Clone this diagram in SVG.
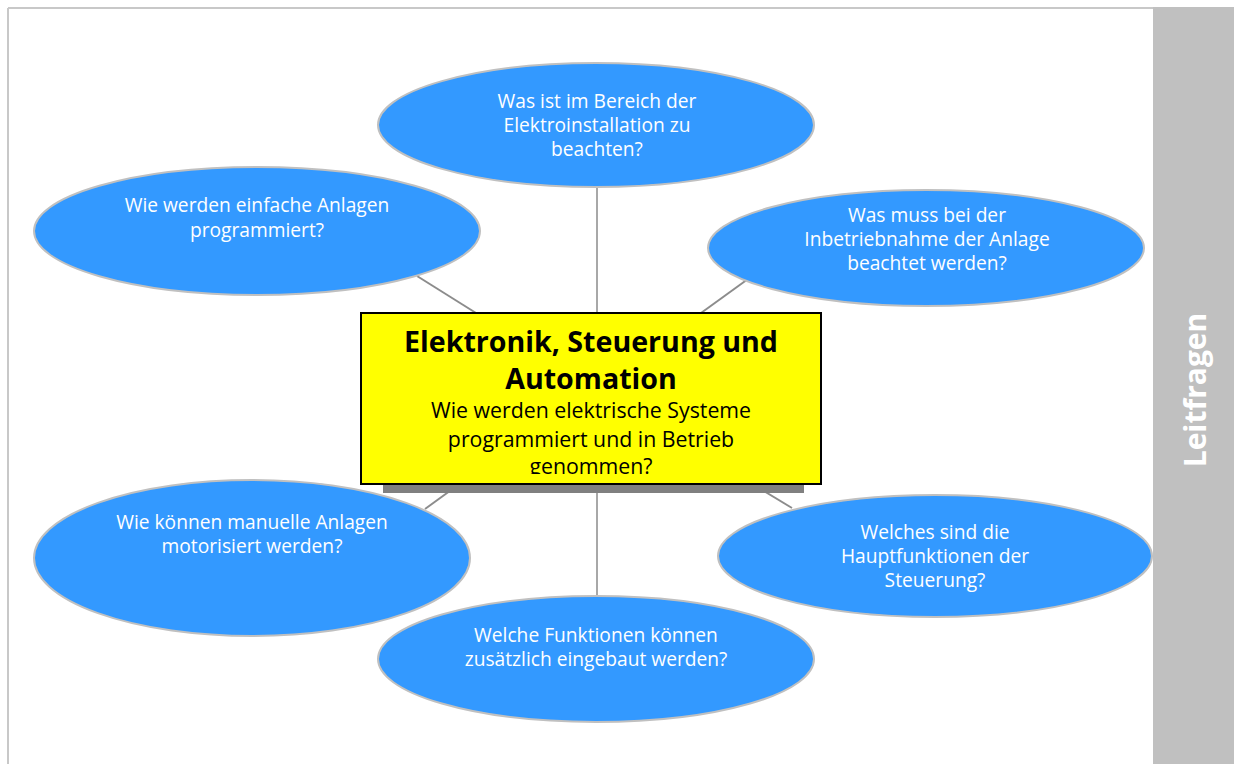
<svg xmlns="http://www.w3.org/2000/svg" width="1236" height="764" viewBox="0 0 1236 764">
<defs>
<style>
.node ellipse{fill:#3399ff;stroke:#c0c0c0;stroke-width:2}
.node text{font-family:"Open Sans","Liberation Sans",sans-serif;font-size:19.2px;fill:#ffffff;text-anchor:middle}
.conn line{stroke:#8c8c8c;stroke-width:2}
.title{font-family:"Open Sans","Liberation Sans",sans-serif;font-weight:bold;font-size:28.6px;fill:#000;text-anchor:middle}
.sub{font-family:"Open Sans","Liberation Sans",sans-serif;font-size:21.3px;fill:#000;text-anchor:middle}
</style>
<clipPath id="boxclip"><rect x="362" y="314" width="458" height="160"/></clipPath>
</defs>
<rect x="0" y="0" width="1236" height="764" fill="#ffffff"/>
<g id="frame">
<line x1="8" y1="8" x2="1153" y2="8" stroke="#c8c8c8" stroke-width="2"/>
<line x1="8" y1="8" x2="8" y2="764" stroke="#c8c8c8" stroke-width="2"/>
<rect x="1153" y="7" width="81" height="757" fill="#c0c0c0"/>
</g>
<g class="conn" id="connectors">
<line x1="597" y1="188" x2="597" y2="313" style="stroke:#a8a8a8"/>
<line x1="417" y1="276" x2="476" y2="313"/>
<line x1="748" y1="279" x2="701" y2="313"/>
<line x1="458" y1="485" x2="425" y2="509"/>
<line x1="754" y1="485" x2="792" y2="508"/>
<line x1="597" y1="485" x2="597" y2="597" style="stroke:#a8a8a8"/>
</g>
<g class="node" id="n-top">
<ellipse cx="596" cy="125" rx="218" ry="62"/>
<text x="597" y="108">Was ist im Bereich der</text>
<text x="597" y="132">Elektroinstallation zu</text>
<text x="597" y="156">beachten?</text>
</g>
<g class="node" id="n-upleft">
<ellipse cx="257" cy="231" rx="223" ry="64"/>
<text x="257" y="212">Wie werden einfache Anlagen</text>
<text x="257" y="237">programmiert?</text>
</g>
<g class="node" id="n-upright">
<ellipse cx="926" cy="248" rx="218" ry="58"/>
<text x="927" y="222">Was muss bei der</text>
<text x="927" y="246">Inbetriebnahme der Anlage</text>
<text x="927" y="270">beachtet werden?</text>
</g>
<g class="node" id="n-lowleft">
<ellipse cx="252" cy="558" rx="218" ry="78"/>
<text x="252" y="529">Wie können manuelle Anlagen</text>
<text x="252" y="553">motorisiert werden?</text>
</g>
<g class="node" id="n-lowright">
<ellipse cx="935" cy="556" rx="217" ry="61"/>
<text x="935" y="539">Welches sind die</text>
<text x="935" y="563">Hauptfunktionen der</text>
<text x="935" y="587">Steuerung?</text>
</g>
<g class="node" id="n-bottom">
<ellipse cx="596" cy="659" rx="218" ry="63"/>
<text x="596" y="642">Welche Funktionen können</text>
<text x="596" y="666">zusätzlich eingebaut werden?</text>
</g>
<g id="n-center">
<rect x="383" y="321" width="421" height="172" fill="#808080"/>
<rect x="361" y="313" width="460" height="171" fill="#ffff00" stroke="#000" stroke-width="2"/>
<g clip-path="url(#boxclip)">
<text class="title" x="591" y="352">Elektronik, Steuerung und</text>
<text class="title" x="591" y="389">Automation</text>
<text class="sub" x="591" y="418">Wie werden elektrische Systeme</text>
<text class="sub" x="591" y="447">programmiert und in Betrieb</text>
<text class="sub" x="591" y="474">genommen?</text>
</g>
</g>
<g id="sidebar-label">
<text x="1206" y="390" transform="rotate(-90 1206 390)" font-family="'Open Sans','Liberation Sans',sans-serif" font-weight="bold" font-size="30" fill="#ffffff" text-anchor="middle">Leitfragen</text>
</g>
</svg>
